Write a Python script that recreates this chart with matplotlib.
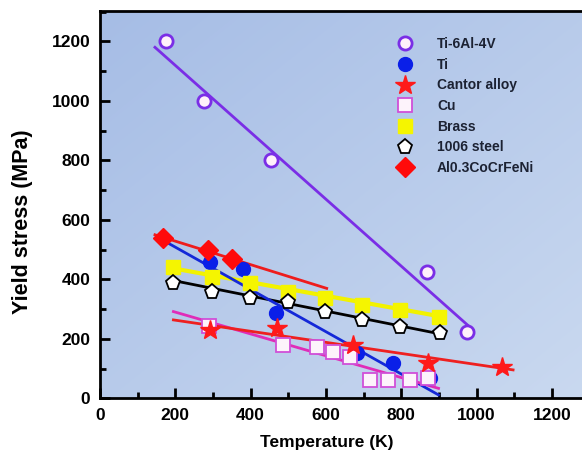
import numpy as np
import matplotlib.pyplot as plt
from matplotlib.ticker import MultipleLocator

plt.rcParams['font.family'] = ['Liberation Sans', 'DejaVu Sans']
plt.rcParams['font.weight'] = 'bold'

# data: temperature (K) vs yield stress (MPa)
ti64_T = [175, 276, 455, 868, 974]
ti64_s = [1200, 1000, 800, 425, 225]
ti_T = [292, 379, 467, 682, 779, 876]
ti_s = [457, 434, 288, 152, 120, 70]
cantor_T = [292, 469, 673, 872, 1067]
cantor_s = [230, 236, 180, 118, 107]
cu_T = [290, 487, 575, 620, 664, 717, 766, 823, 872]
cu_s = [245, 180, 174, 157, 140, 62, 62, 62, 68]
brass_T = [195, 297, 398, 500, 598, 695, 797, 899]
brass_s = [443, 409, 387, 359, 337, 314, 297, 275]
steel_T = [195, 297, 398, 500, 598, 695, 797, 903]
steel_s = [387, 359, 337, 325, 292, 264, 241, 219]
al_T = [168, 288, 350]
al_s = [540, 499, 468]

# fitted trend lines (end points)
ti64_fit_T, ti64_fit_s = [146, 991], [1180, 230]
ti_fit_T, ti_fit_s = [181, 899], [522, 12]
cantor_fit_T, cantor_fit_s = [195, 1097], [264, 96]
cu_fit_T, cu_fit_s = [195, 899], [292, 34]
brass_fit_T, brass_fit_s = [195, 899], [437, 277]
steel_fit_T, steel_fit_s = [196, 899], [396, 218]
al_fit_T, al_fit_s = [146, 602], [550, 370]

fig = plt.figure(figsize=(5.82, 4.66), dpi=100)
ax = fig.add_axes([0.1718, 0.1449, 0.8282, 0.8315])

# gradient background
grad = np.linspace(0, 1, 256)
gx, gy = np.meshgrid(grad, grad[::-1])
g = (gx + (1 - gy)) / 2
c0 = np.array([0.650, 0.740, 0.900])
c1 = np.array([0.790, 0.850, 0.940])
img = c0 + (c1 - c0) * g[..., None]
ax.imshow(img, extent=[0, 1, 0, 1], transform=ax.transAxes, aspect='auto', zorder=0)

lw = 2
ax.plot(ti64_fit_T, ti64_fit_s, color='#7a2ee6', lw=lw, zorder=2)
ax.plot(al_fit_T, al_fit_s, color='#ee1c1c', lw=lw, zorder=2)
ax.plot(brass_fit_T, brass_fit_s, color='#f2f200', lw=3, zorder=2)
ax.plot(steel_fit_T, steel_fit_s, color='black', lw=lw, zorder=3)
ax.plot(ti_fit_T, ti_fit_s, color='#1428d8', lw=lw, zorder=3)
ax.plot(cu_fit_T, cu_fit_s, color='#e02cb8', lw=lw, zorder=3)
ax.plot(cantor_fit_T, cantor_fit_s, color='#ee2020', lw=lw, zorder=3)

ax.plot(ti64_T, ti64_s, 'o', ms=9.5, mfc='#fff0fa', mec='#7a2ee6', mew=2,
        label='Ti-6Al-4V', zorder=4)
ax.plot(ti_T, ti_s, 'o', ms=10, mfc='#0a1fe8', mec='#0a1fe8',
        label='Ti', zorder=4)
ax.plot(cantor_T, cantor_s, '*', ms=15, mfc='#ff1a1a', mec='#ff1a1a',
        label='Cantor alloy', zorder=5)
ax.plot(cu_T, cu_s, 's', ms=9.5, mfc='#fdf3fb', mec='#d050d8', mew=1.3,
        label='Cu', zorder=4)
ax.plot(brass_T, brass_s, 's', ms=10, mfc='#f5f500', mec='#f5f500',
        label='Brass', zorder=4)
ax.plot(steel_T, steel_s, 'p', ms=11, mfc='white', mec='black', mew=1.3,
        label='1006 steel', zorder=4)
ax.plot(al_T, al_s, 'D', ms=10, mfc='#ff0a0a', mec='#ff0a0a',
        label='Al0.3CoCrFeNi', zorder=5)

ax.set_xlim(0, 1280)
ax.set_ylim(0, 1302)
ax.xaxis.set_major_locator(MultipleLocator(200))
ax.xaxis.set_minor_locator(MultipleLocator(100))
ax.yaxis.set_major_locator(MultipleLocator(200))
ax.yaxis.set_minor_locator(MultipleLocator(100))
ax.tick_params(which='both', direction='in', top=False, right=False,
               labelsize=12.5, width=2)
ax.tick_params(which='major', length=7, pad=7)
ax.tick_params(which='minor', length=4)
for s in ['left', 'bottom', 'top']:
    ax.spines[s].set_linewidth(2)
ax.spines['right'].set_visible(False)

ax.set_xlabel('Temperature (K)', fontsize=12.5, fontweight='bold')
ax.set_ylabel('Yield stress (MPa)', fontsize=15.5, fontweight='bold')
ax.xaxis.set_label_coords(0.471, -0.095)
ax.yaxis.set_label_coords(-0.139, 0.455)

ax.legend(loc='upper left', bbox_to_anchor=(0.59, 0.965), frameon=False,
          fontsize=10, handletextpad=1.7, labelspacing=0.48, handlelength=1.2,
          labelcolor='#1c2233')

fig.savefig('out.png', dpi=100)
